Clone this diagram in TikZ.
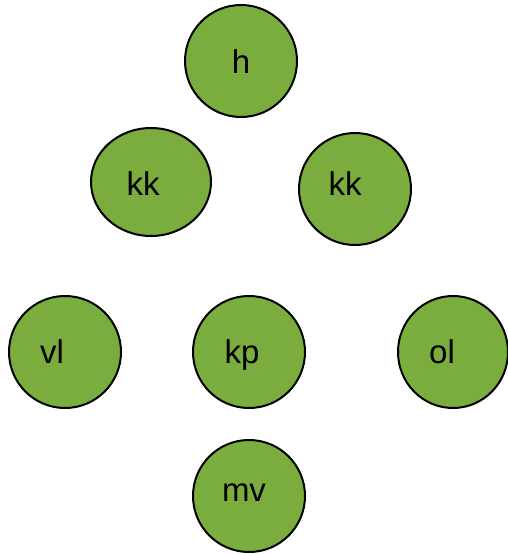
\documentclass[tikz,border=0pt]{standalone}
\usepackage{fontspec}
\setmainfont{Liberation Sans}
\definecolor{leafgreen}{RGB}{122,173,62}

\begin{document}
\begin{tikzpicture}[x=1pt,y=-1pt,
  bubble/.style={draw=black, line width=2pt, fill=leafgreen},
  lbl/.style={anchor=base, inner sep=0pt, font=\fontsize{33}{38}\selectfont}]
\useasboundingbox (0,0) rectangle (508,554);

% top
\draw[bubble] (241,61) ellipse (56 and 56);
\node[lbl] (h) at (241,73) {h};

% second row
\draw[bubble] (151,182) ellipse (60 and 54);
\node[lbl] (kkl) at (143,195) {kk};
\draw[bubble] (355,189) ellipse (56 and 56);
\node[lbl] (kkr) at (345,195) {kk};

% third row
\draw[bubble] (65,352) ellipse (56 and 56);
\node[lbl] (vl) at (52,363) {vl};
\draw[bubble] (249,352) ellipse (56 and 56);
\node[lbl] (kp) at (242,363) {kp};
\draw[bubble] (453,352) ellipse (55 and 56);
\node[lbl] (ol) at (442,363) {ol};

% bottom
\draw[bubble] (249,496) ellipse (56 and 56);
\node[lbl] (mv) at (244,501) {mv};
\end{tikzpicture}
\end{document}
